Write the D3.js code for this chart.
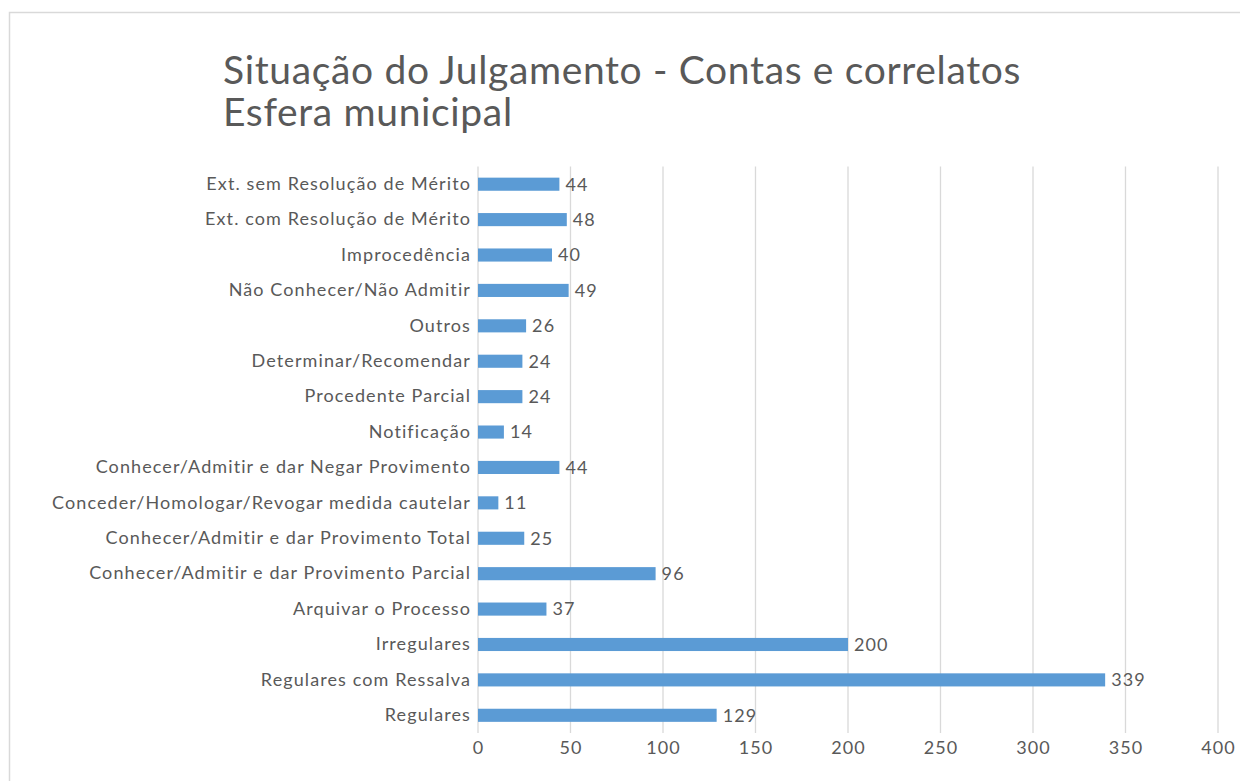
<!DOCTYPE html>
<html>
<head>
<meta charset="utf-8">
<script src="https://cdn.jsdelivr.net/npm/d3@7"></script>
<style>
  html, body { margin: 0; padding: 0; background: #fff; }
  svg { display: block; }
  text { font-family: Lato, "Open Sans", sans-serif; fill: #595959; }
</style>
</head>
<body>
<svg id="chart" width="1240" height="781"></svg>
<script>
// Categories, top to bottom
const categories = [
  "Ext. sem Resolução de Mérito",
  "Ext. com Resolução de Mérito",
  "Improcedência",
  "Não Conhecer/Não Admitir",
  "Outros",
  "Determinar/Recomendar",
  "Procedente Parcial",
  "Notificação",
  "Conhecer/Admitir e dar Negar Provimento",
  "Conceder/Homologar/Revogar medida cautelar",
  "Conhecer/Admitir e dar Provimento Total",
  "Conhecer/Admitir e dar Provimento Parcial",
  "Arquivar o Processo",
  "Irregulares",
  "Regulares com Ressalva",
  "Regulares"
];
const values = [44, 48, 40, 49, 26, 24, 24, 14, 44, 11, 25, 96, 37, 200, 339, 129];
const xTicks = [0, 50, 100, 150, 200, 250, 300, 350, 400];
const titleLines = ["Situação do Julgamento - Contas e correlatos", "Esfera municipal"];

const labelFont = { size: "18px", spacing: "1.1px" };

const svg = d3.select("#chart");

// Chart frame
svg.append("rect")
  .attr("x", 9.5).attr("y", 12.5)
  .attr("width", 1260).attr("height", 800)
  .attr("fill", "#fff")
  .attr("stroke", "#d9d9d9").attr("stroke-width", 1.5);

const plot = { left: 478, right: 1218, top: 166.5, bottom: 733 };

const x = d3.scaleLinear().domain([0, 400]).range([plot.left, plot.right]);
const y = d3.scaleBand().domain(categories).range([plot.top, plot.bottom]).paddingInner(0.63).paddingOuter(0.315);

// Title
svg.append("text")
  .attr("x", 223).attr("y", 84)
  .style("font-size", "39px")
  .style("letter-spacing", "0.65px")
  .selectAll("tspan").data(titleLines).join("tspan")
  .attr("x", 223).attr("dy", (d, i) => i === 0 ? 0 : 42)
  .text(d => d);

// Vertical gridlines
svg.append("g")
  .selectAll("line").data(xTicks).join("line")
  .attr("x1", d => x(d)).attr("x2", d => x(d))
  .attr("y1", plot.top).attr("y2", plot.bottom)
  .attr("stroke", "#d9d9d9").attr("stroke-width", 1.3);

function styleLabels(sel) {
  sel.style("font-size", labelFont.size)
    .style("letter-spacing", labelFont.spacing)
    .style("font-family", "Lato, 'Open Sans', sans-serif")
    .attr("fill", "#595959");
}

// X axis labels
const xAxis = d3.axisBottom(x).tickValues(xTicks).tickSize(0).tickPadding(8);
const gx = svg.append("g").attr("transform", `translate(0,${plot.bottom})`).call(xAxis);
gx.select(".domain").remove();
gx.selectAll("text").call(styleLabels);

// Y axis labels
const yAxis = d3.axisLeft(y).tickSize(0).tickPadding(7);
const gy = svg.append("g").attr("transform", `translate(${plot.left},0)`).call(yAxis);
gy.select(".domain").remove();
gy.selectAll("text").call(styleLabels);

// Bars
const data = categories.map((c, i) => ({ c, v: values[i] }));
svg.append("g")
  .selectAll("rect").data(data).join("rect")
  .attr("x", x(0))
  .attr("y", d => y(d.c))
  .attr("width", d => x(d.v) - x(0))
  .attr("height", y.bandwidth())
  .attr("fill", "#5b9bd5");

// Value labels
svg.append("g")
  .selectAll("text").data(data).join("text")
  .attr("x", d => x(d.v) + 6)
  .attr("y", d => y(d.c) + y.bandwidth() / 2)
  .attr("dy", "0.35em")
  .call(styleLabels)
  .text(d => d.v);
</script>
</body>
</html>
